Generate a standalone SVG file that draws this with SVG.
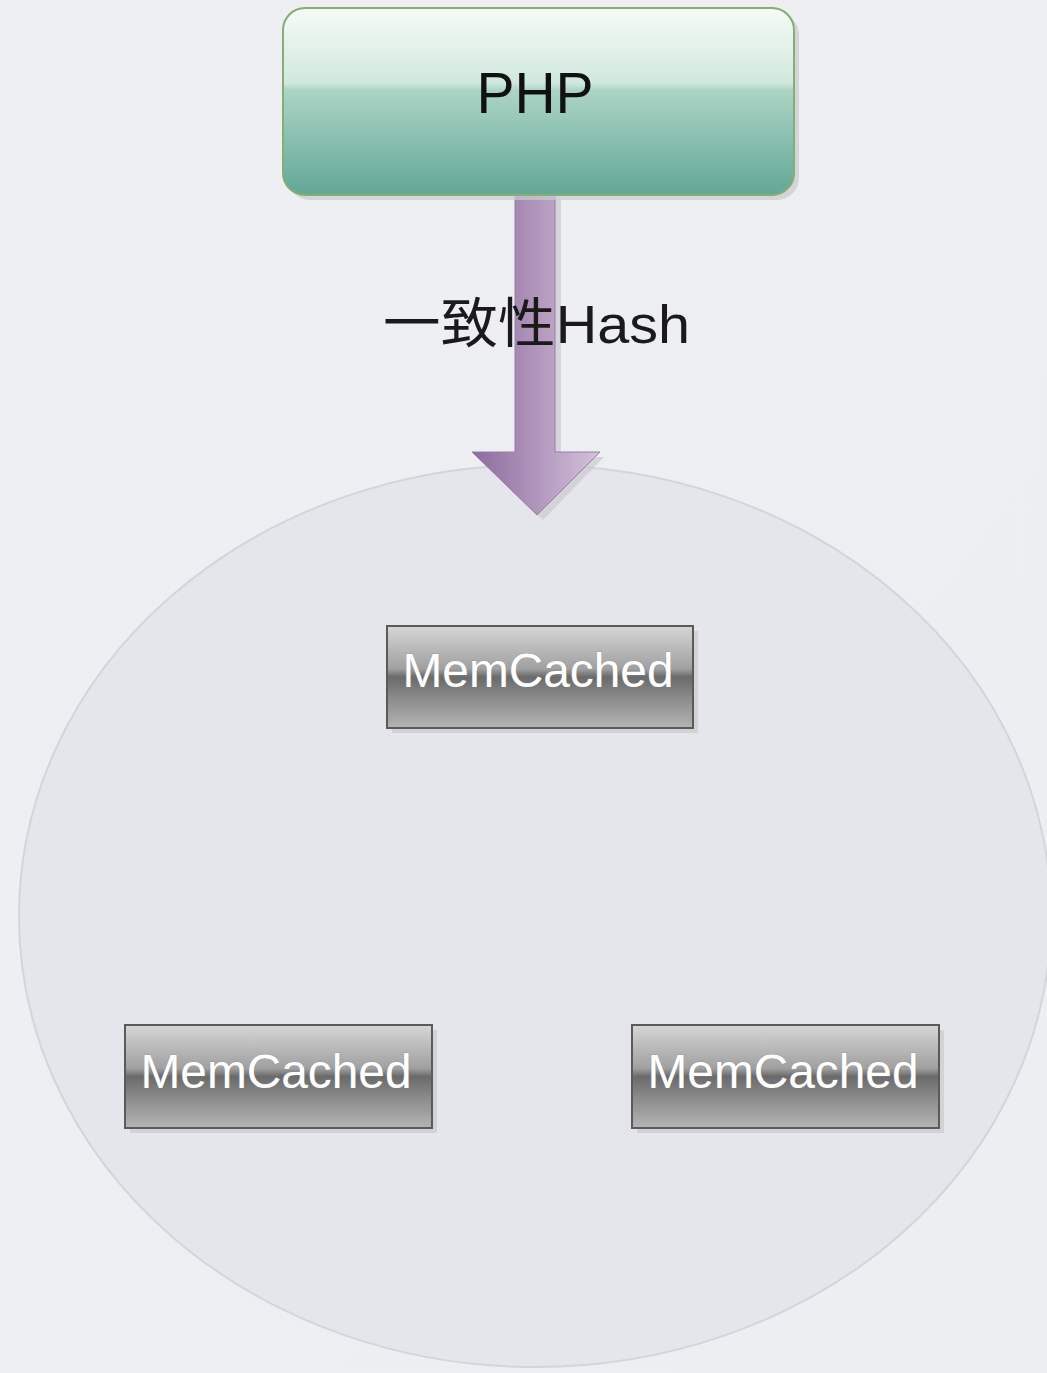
<svg xmlns="http://www.w3.org/2000/svg" width="1047" height="1373" viewBox="0 0 1047 1373">
<defs>
<linearGradient id="bg" x1="0" y1="0" x2="1" y2="1"><stop offset="0" stop-color="#eeeff2"/><stop offset="1" stop-color="#eceef2"/></linearGradient>
<linearGradient id="php" x1="0" y1="0" x2="0" y2="1"><stop offset="0" stop-color="#f6fbf7"/><stop offset="0.4" stop-color="#d0e8de"/><stop offset="0.44" stop-color="#acd4c5"/><stop offset="1" stop-color="#62a797"/></linearGradient>
<linearGradient id="arrow" x1="0" y1="0" x2="1" y2="0"><stop offset="0" stop-color="#8d6a9e"/><stop offset="1" stop-color="#d4c2da"/></linearGradient>
<linearGradient id="mc" x1="0" y1="0" x2="0" y2="1"><stop offset="0" stop-color="#d6d6d6"/><stop offset="0.42" stop-color="#a0a0a0"/><stop offset="0.5" stop-color="#6a6a6a"/><stop offset="0.7" stop-color="#8a8a8a"/><stop offset="1" stop-color="#b4b4b4"/></linearGradient>
<style>
.mcbox{fill:url(#mc);stroke:#5a5a5a;stroke-width:2}
.shadow{fill:#c9cacd;opacity:0.7}
.mct{font-family:"Liberation Sans",Arial,sans-serif;font-size:48px;fill:#ffffff;text-anchor:middle;stroke:#888;stroke-width:0.6;paint-order:stroke}
</style>
</defs>
<rect width="1047" height="1373" fill="url(#bg)"/>
<g id="ring">
<ellipse cx="535" cy="916" rx="516" ry="451" fill="#e5e6eb" stroke="#d3d5db" stroke-width="2"/>
</g>
<g id="connectors">
<path d="M521 199 H561 V457 H604 L543 520 L478 457 H521 Z" fill="#c4c5c9" opacity="0.6"/>
<path d="M515 195 H555 V452 H600 L537 515 L472 452 H515 Z" fill="url(#arrow)" stroke="#9a7aab" stroke-width="1"/>
</g>
<g id="php-node">
<rect x="288" y="13" width="511" height="187" rx="22" fill="#c9cacd" opacity="0.7"/>
<rect x="283" y="8" width="511" height="187" rx="22" fill="url(#php)" stroke="#86ad72" stroke-width="2"/>
<text x="535" y="113" font-family="Liberation Sans,Arial,sans-serif" font-size="57" fill="#111" text-anchor="middle">PHP</text>
</g>
<g id="label">
<text x="383" y="343" font-family="Liberation Sans,Noto Sans CJK SC,sans-serif" font-size="54" fill="#1a1a1a" textLength="307" lengthAdjust="spacingAndGlyphs">一致性Hash</text>
</g>
<g id="mc-top">
<rect class="shadow" x="392" y="631" width="306" height="102"/>
<rect class="mcbox" x="387" y="626" width="306" height="102"/>
<text class="mct" x="538" y="687" textLength="271" lengthAdjust="spacingAndGlyphs">MemCached</text>
</g>
<g id="mc-left">
<rect class="shadow" x="130" y="1030" width="307" height="103"/>
<rect class="mcbox" x="125" y="1025" width="307" height="103"/>
<text class="mct" x="276" y="1088" textLength="271" lengthAdjust="spacingAndGlyphs">MemCached</text>
</g>
<g id="mc-right">
<rect class="shadow" x="637" y="1030" width="307" height="103"/>
<rect class="mcbox" x="632" y="1025" width="307" height="103"/>
<text class="mct" x="783" y="1088" textLength="271" lengthAdjust="spacingAndGlyphs">MemCached</text>
</g>
</svg>
